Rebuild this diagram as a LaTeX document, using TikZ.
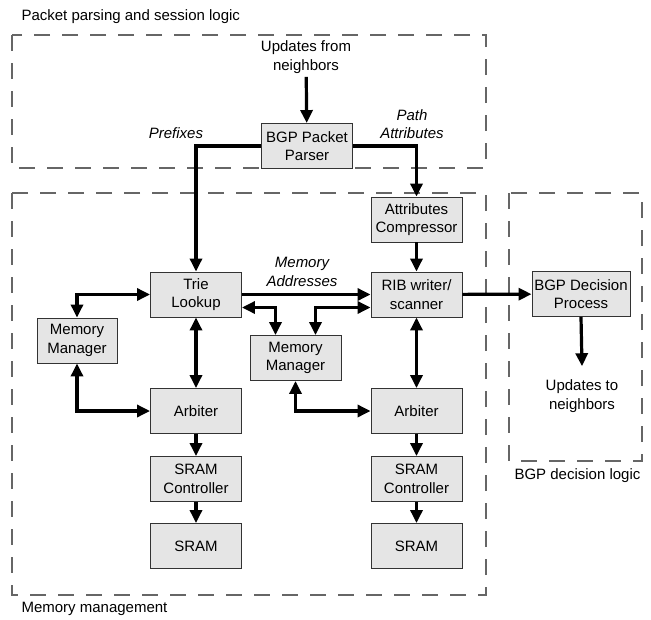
\documentclass[tikz,border=0pt]{standalone}
\usepackage{fontspec}
\setmainfont{Liberation Sans}
\usetikzlibrary{arrows.meta}

\begin{document}
\begin{tikzpicture}[x=1pt,y=-1pt,
  font=\fontsize{15}{18.5}\selectfont,
  blk/.style={draw=black!80, fill=black!10, line width=0.9pt, minimum width=91pt, minimum height=45pt, align=center, inner sep=2pt},
  wire/.style={line width=3.2pt, -{Triangle[length=13pt,width=12pt]}},
  bi/.style={line width=3.2pt, {Triangle[length=13pt,width=12pt]}-{Triangle[length=13pt,width=12pt]}},
  grp/.style={draw=black!60, line width=1.2pt, dash pattern=on 16pt off 12pt},
  lbl/.style={font=\fontsize{15}{18.5}\selectfont\itshape, align=center}]

\useasboundingbox (0,0) rectangle (651,619);

\draw[grp] (12,35) rectangle (486,168);
\draw[grp] (12,193) rectangle (486,595);
\draw[grp] (509,193) rectangle (642,461);
\node[anchor=west] (g1) at (18,17) {Packet parsing and session logic};
\node[anchor=west] (g2) at (18,609) {Memory management};
\node[anchor=west] (g3) at (511,476) {BGP decision logic};

\node[blk] (parser) at (307,146) {BGP Packet\\Parser};
\node[blk] (comp) at (416.5,219.5) {Attributes\\Compressor};
\node[blk] (trie) at (196,294.5) {Trie\\Lookup};
\node[blk] (rib) at (416.5,294.5) {RIB writer/\\scanner};
\node[blk, minimum width=98pt] (dec) at (581,294) {BGP Decision\\Process};
\node[blk, minimum width=80pt] (mm1) at (77,340.5) {Memory\\Manager};
\node[blk] (mm2) at (295.5,358) {Memory\\Manager};
\node[blk] (arbL) at (196,411) {Arbiter};
\node[blk] (arbR) at (416.5,411) {Arbiter};
\node[blk] (ctrlL) at (196,479) {SRAM\\Controller};
\node[blk] (ctrlR) at (416.5,479) {SRAM\\Controller};
\node[blk] (sramL) at (196,546) {SRAM};
\node[blk] (sramR) at (416.5,546) {SRAM};

\node[align=center] (upin) at (306,57) {Updates from\\neighbors};
\node[align=center] (upout) at (582,396) {Updates to\\neighbors};
\node[lbl] (pfx) at (176,133) {Prefixes};
\node[lbl] (pattr) at (412,124) {Path\\Attributes};
\node[lbl] (maddr) at (302,272) {Memory\\Addresses};

\draw[wire] (upin) -- (parser);
\draw[wire] (parser.west) -| (trie.north);
\draw[wire] (parser.east) -| (comp.north);
\draw[wire] (comp) -- (rib);
\draw[wire] (trie) -- (rib);
\draw[wire] (rib) -- (dec);
\draw[wire] (dec.south) -- ([yshift=10pt]upout.north);
\draw[bi] (trie.west) -| (mm1.north);
\draw[bi] (mm1.south) |- (arbL.west);
\draw[bi] (trie) -- (arbL);
\draw[bi] ([yshift=-13pt]trie.east) -| ([xshift=-20pt]mm2.north);
\draw[bi] ([yshift=-13pt]rib.west) -| ([xshift=20pt]mm2.north);
\draw[bi] (mm2.south) |- (arbR.west);
\draw[bi] (rib) -- (arbR);
\draw[wire] (arbL) -- (ctrlL);
\draw[wire] (ctrlL) -- (sramL);
\draw[wire] (arbR) -- (ctrlR);
\draw[wire] (ctrlR) -- (sramR);
\end{tikzpicture}
\end{document}
